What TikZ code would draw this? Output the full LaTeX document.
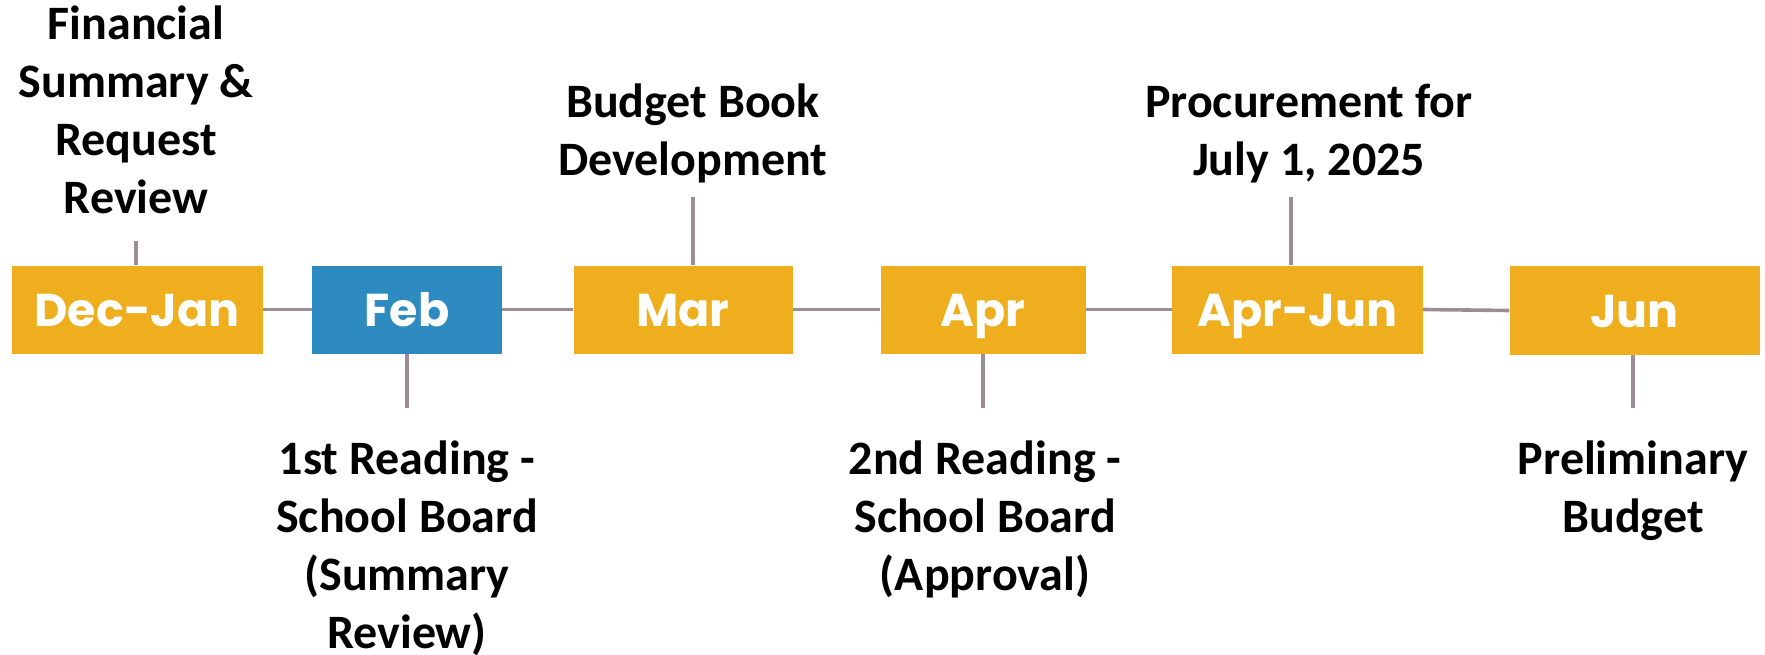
\documentclass[tikz,border=0pt]{standalone}
\usepackage{fontspec}
\setmainfont{Carlito}
\newfontfamily\boxfont{Poppins}
\definecolor{gold}{HTML}{EEAE1E}
\definecolor{bluebox}{HTML}{2E8BC1}
\definecolor{linegray}{HTML}{9C8C95}
\begin{document}
\begin{tikzpicture}[x=1pt,y=-1pt,
  month/.style={fill=gold, draw=none, inner sep=0pt, text=white,
    text height=34pt, text depth=0pt,
    font=\boxfont\bfseries\fontsize{46}{50}\selectfont},
  lbl/.style={inner sep=0pt, anchor=base, font=\bfseries\fontsize{48}{58}\selectfont},
  conn/.style={draw=linegray, line width=3.6pt}]
\useasboundingbox (0,0) rectangle (1765,654);
% boxes
\node[month, minimum width=251pt, minimum height=88pt] (dj) at (137,309.5) {Dec-Jan};
\node[month, fill=bluebox, minimum width=190pt, minimum height=88pt] (feb) at (407,309.5) {Feb};
\node[month, minimum width=219pt, minimum height=88pt] (mar) at (683,309.5) {Mar};
\node[month, minimum width=205pt, minimum height=88pt] (apr) at (983,309.5) {Apr};
\node[month, minimum width=251pt, minimum height=88pt] (aj) at (1297.5,309.5) {Apr-Jun};
\node[month, minimum width=250pt, minimum height=89pt] (jun) at (1634.5,310.5) {Jun};
% labels
\node[lbl] (t1) at (136,39) {\begin{tabular}[t]{@{}c@{}}Financial\\Summary \&\\Request\\Review\end{tabular}};
\node[lbl] (t2) at (407,474) {\begin{tabular}[t]{@{}c@{}}1st Reading -\\School Board\\(Summary\\Review)\end{tabular}};
\node[lbl] (t3) at (693,117) {\begin{tabular}[t]{@{}c@{}}Budget Book\\Development\end{tabular}};
\node[lbl] (t4) at (985,474) {\begin{tabular}[t]{@{}c@{}}2nd Reading -\\School Board\\(Approval)\end{tabular}};
\node[lbl] (t5) at (1309,117) {\begin{tabular}[t]{@{}c@{}}Procurement for\\July 1, 2025\end{tabular}};
\node[lbl] (t6) at (1633,474) {\begin{tabular}[t]{@{}c@{}}Preliminary\\Budget\end{tabular}};
% tick end points
\coordinate (c1) at (136,241);
\coordinate (c2) at (407,408);
\coordinate (c3) at (693,197);
\coordinate (c4) at (983,408);
\coordinate (c5) at (1291,197);
\coordinate (c6) at (1633,408);
% connectors
\draw[conn] (dj.east) -- (feb.west);
\draw[conn] (feb.east) -- (mar.west);
\draw[conn] (mar.east) -- (apr.west);
\draw[conn] (apr.east) -- (aj.west);
\draw[conn] (aj.east) -- (jun.west);
% ticks
\draw[conn] (c1) -- (c1 |- dj.north);
\draw[conn] (c2) -- (c2 |- feb.south);
\draw[conn] (c3) -- (c3 |- mar.north);
\draw[conn] (c4) -- (c4 |- apr.south);
\draw[conn] (c5) -- (c5 |- aj.north);
\draw[conn] (c6) -- (c6 |- jun.south);
\end{tikzpicture}
\end{document}
